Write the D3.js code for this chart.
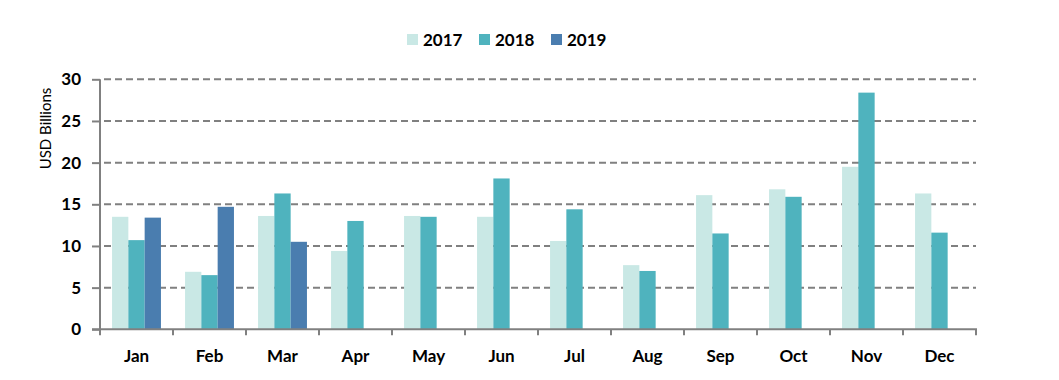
<!DOCTYPE html>
<html><head><meta charset="utf-8">
<script src="https://cdn.jsdelivr.net/npm/d3@7/dist/d3.min.js"></script>
<style>body{margin:0;background:#fff}</style>
</head><body>
<svg id="c" width="1059" height="380"></svg>
<script>
const months = ["Jan","Feb","Mar","Apr","May","Jun","Jul","Aug","Sep","Oct","Nov","Dec"];
const seriesNames = ["2017","2018","2019"];
const v2017 = [13.5,6.9,13.6,9.4,13.6,13.5,10.6,7.7,16.1,16.8,19.5,16.3];
const v2018 = [10.7,6.5,16.3,13.0,13.5,18.1,14.4,7.0,11.5,15.9,28.4,11.6];
const v2019 = [13.4,14.7,10.5,null,null,null,null,null,null,null,null,null];
const yTicks = [0,5,10,15,20,25,30];
const colors = ["#c9e8e5","#4fb3be","#4a7daf"];

(function(){
const svg = d3.select("#c");
const font = "Lato, 'Open Sans', sans-serif";
const pL = 100, pR = 976, pT = 79.3, pB = 329.3;

const x0 = d3.scaleBand().domain(months).range([pL, pR]).paddingInner(0.33).paddingOuter(0.165);
const x1 = d3.scaleBand().domain(seriesNames).range([0, x0.bandwidth()]);
const y = d3.scaleLinear().domain([0, 30]).range([pB, pT]);

// gridlines
svg.append("g").selectAll("line").data(yTicks.filter(d => d > 0)).join("line")
  .attr("x1", pL + 4).attr("x2", pR)
  .attr("y1", d => y(d)).attr("y2", d => y(d))
  .attr("stroke", "#808080").attr("stroke-width", 2).attr("stroke-dasharray", "7,4");

// bars
const data = [v2017, v2018, v2019];
const g = svg.append("g");
seriesNames.forEach((s, i) => {
  g.append("g").selectAll("rect").data(months.map((m, j) => ({m, v: data[i][j]})).filter(d => d.v != null))
    .join("rect")
    .attr("x", d => x0(d.m) + x1(s))
    .attr("width", x1.bandwidth())
    .attr("y", d => y(d.v))
    .attr("height", d => y(0) - y(d.v))
    .attr("fill", colors[i]);
});

// y axis
const yAxis = svg.append("g").attr("transform", `translate(${pL},0)`)
  .call(d3.axisLeft(y).tickValues(yTicks).tickSize(8).tickPadding(11));
yAxis.select(".domain").attr("stroke", "#808080").attr("stroke-width", 2).attr("d", `M0,${pT}V${pB}`);
yAxis.selectAll(".tick line").attr("stroke", "#808080").attr("stroke-width", 2);
yAxis.selectAll(".tick text").attr("font-family", font).attr("font-weight", "bold")
  .attr("font-size", 17).attr("fill", "#000");

// x axis
const xAxis = svg.append("g").attr("transform", `translate(0,${pB})`)
  .call(d3.axisBottom(x0).tickSize(0).tickPadding(21));
xAxis.select(".domain").attr("stroke", "#808080").attr("stroke-width", 2).attr("d", `M${pL - 8},0H${pR + 1}`);
xAxis.selectAll(".tick text").attr("font-family", font).attr("font-weight", "bold")
  .attr("font-size", 17).attr("fill", "#000");
const step = x0.step();
svg.append("g").selectAll("line").data(d3.range(months.length + 1)).join("line")
  .attr("x1", i => pL + i * step).attr("x2", i => pL + i * step)
  .attr("y1", pB).attr("y2", pB + 6)
  .attr("stroke", "#808080").attr("stroke-width", 2);

// y title
svg.append("text").attr("transform", `translate(50.5,${(85+172)/2}) rotate(-90)`)
  .attr("text-anchor", "middle").attr("font-family", font).attr("font-size", 15)
  .attr("fill", "#000").text("USD Billions");

// legend
const legendX = [407, 479, 551];
const lg = svg.append("g");
seriesNames.forEach((s, i) => {
  lg.append("rect").attr("x", legendX[i]).attr("y", 34).attr("width", 11).attr("height", 11).attr("fill", colors[i]);
  lg.append("text").attr("x", legendX[i] + 16).attr("y", 45.5).attr("font-family", font)
    .attr("font-weight", "bold").attr("font-size", 17).attr("fill", "#000").text(s);
});
})();
</script>
</body></html>
